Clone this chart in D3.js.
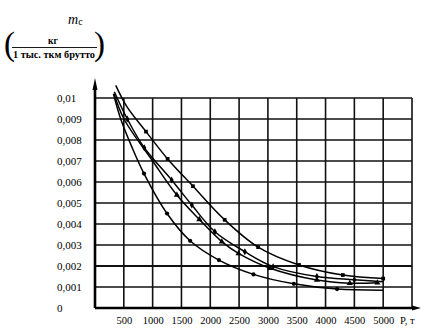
<!DOCTYPE html>
<html><head><meta charset="utf-8">
<script src="https://cdn.jsdelivr.net/npm/d3@7"></script>
<style>
body{margin:0;background:#fff;}
svg{display:block;}
text{font-family:"Liberation Serif","Times New Roman",serif;fill:#000;}
</style></head>
<body>
<svg id="chart" width="428" height="335"></svg>
<script>
// ---- data ----
const xTicks = [500,1000,1500,2000,2500,3000,3500,4000,4500,5000];
const yTicks = [0,0.001,0.002,0.003,0.004,0.005,0.006,0.007,0.008,0.009,0.01];
const xGrid = [500,1000,1500,2000,2500,3000,3500,4000,4500,5000,5500];
const yGrid = [0.001,0.002,0.003,0.004,0.005,0.006,0.007,0.008,0.009,0.01];

const curveA_P = [320,446,650,850,1250,1650,2150,2750,3450,4200,5000];
const curveA_m = [0.0102,0.0090,0.0076,0.0064,0.0045,0.0032,0.00228,0.0016,0.00115,0.0009,0.00085];
const curveA_marks = [850,1250,1650,2150,2750,3450,4200];

const curveB_P = [330,503,1000,1420,1810,2200,2490,3040,3850,4420,4900];
const curveB_m = [0.0102,0.0090,0.0070,0.00538,0.00422,0.00316,0.0026,0.00189,0.00133,0.00118,0.0012];
const curveB_marks = [1420,1810,2200,2490,3040,3850,4420,4900];

const curveC_P = [335,561,855,1330,1680,2080,2600,3090,3850,4500,5000];
const curveC_m = [0.0103,0.0090,0.00763,0.0061,0.0049,0.00363,0.00268,0.00197,0.0015,0.00135,0.00125];
const curveC_marks = [561,855,1330,1680,2080,2600,3090,3850,4500];

const curveD_P = [360,550,885,1260,1700,2250,2830,3540,4300,5000];
const curveD_m = [0.0106,0.0096,0.0084,0.0071,0.0058,0.0042,0.0029,0.00205,0.00157,0.0014];
const curveD_marks = [885,1260,1700,2250,2830,3540,4300,5000];

// ---- chart ----
const svg = d3.select("#chart");
const x = d3.scaleLinear().domain([0,5500]).range([95,412]);
const y = d3.scaleLinear().domain([0,0.01]).range([308,98]);

// grid
svg.append("g").selectAll("line").data(xGrid).join("line")
  .attr("x1",d=>x(d)).attr("x2",d=>x(d)).attr("y1",y(0)).attr("y2",y(0.01))
  .attr("stroke","#111").attr("stroke-width",1.6);
svg.append("g").selectAll("line").data(yGrid).join("line")
  .attr("x1",x(0)).attr("x2",x(5500)).attr("y1",d=>y(d)).attr("y2",d=>y(d))
  .attr("stroke","#111").attr("stroke-width",d=>d===0.002?2.2:1.6);

// axes lines with arrows
svg.append("line").attr("x1",x(0)).attr("y1",y(0)).attr("x2",x(5500)+2).attr("y2",y(0))
  .attr("stroke","#000").attr("stroke-width",2.6);
svg.append("path").attr("d",`M${x(5500)+9},${y(0)} L${x(5500)},${y(0)-2.5} L${x(5500)},${y(0)+2.5}Z`).attr("fill","#000");
svg.append("line").attr("x1",x(0)).attr("y1",y(0)).attr("x2",x(0)).attr("y2",88)
  .attr("stroke","#000").attr("stroke-width",2.6);
svg.append("path").attr("d",`M${x(0)},78 L${x(0)-2.5},90 L${x(0)+2.5},90Z`).attr("fill","#000");

// x tick labels
const xAxis = svg.append("g").attr("transform",`translate(0,${y(0)})`)
  .call(d3.axisBottom(x).tickValues(xTicks).tickSize(0).tickPadding(9).tickFormat(d=>String(d)));
xAxis.attr("font-family","Liberation Serif").attr("font-size",10.5);
xAxis.select(".domain").remove();
xAxis.selectAll("text").attr("fill","#000");
svg.append("text").attr("x",400).attr("y",324).style("font-size","10.5px").text("P, т");

// y tick labels
const yAxis = svg.append("g").attr("transform",`translate(${x(0)},0)`)
  .call(d3.axisLeft(y).tickValues(yTicks).tickSize(0)
    .tickFormat(d=> d===0 ? "0" : String(+d.toFixed(3)).replace(".",",")));
yAxis.attr("font-family","Liberation Serif").attr("font-size",11);
yAxis.select(".domain").remove();
yAxis.selectAll("text").attr("x",57-95).attr("text-anchor","start").attr("fill","#000");

// curves
const curves = [
  {P:curveA_P, m:curveA_m, marks:curveA_marks, sym:d3.symbolCircle, size:14},
  {P:curveB_P, m:curveB_m, marks:curveB_marks, sym:d3.symbolTriangle, size:16},
  {P:curveC_P, m:curveC_m, marks:curveC_marks, sym:d3.symbolDiamond, size:14},
  {P:curveD_P, m:curveD_m, marks:curveD_marks, sym:d3.symbolSquare, size:14}
];
const line = d3.line().x(d=>x(d[0])).y(d=>y(d[1])).curve(d3.curveCatmullRom.alpha(0.5));
curves.forEach(c=>{
  const pts = c.P.map((p,i)=>[p,c.m[i]]);
  svg.append("path").attr("d",line(pts)).attr("fill","none").attr("stroke","#000").attr("stroke-width",1.5);
  const mk = pts.filter(p=>c.marks.includes(p[0]));
  svg.append("g").selectAll("path").data(mk).join("path")
    .attr("transform",d=>`translate(${x(d[0])},${y(d[1])})`)
    .attr("d",d3.symbol().type(c.sym).size(c.size)).attr("fill","#000");
});

// title
const t = svg.append("text").attr("x",68).attr("y",24);
t.append("tspan").style("font-style","italic").style("font-size","14px").text("m");
t.append("tspan").style("font-size","10px").attr("dy",1).text("c");
svg.append("text").attr("x",4).attr("y",55).style("font-size","33px").text("(");
svg.append("text").attr("x",94).attr("y",55).style("font-size","33px").text(")");
svg.append("text").attr("x",53).attr("y",44).attr("text-anchor","middle")
  .style("font-size","9.5px").style("font-weight","bold").text("кг");
svg.append("line").attr("x1",12).attr("x2",97).attr("y1",47.5).attr("y2",47.5).attr("stroke","#000").attr("stroke-width",0.9);
svg.append("text").attr("x",13).attr("y",58).attr("textLength",82).attr("lengthAdjust","spacingAndGlyphs")
  .style("font-size","9.5px").style("font-weight","bold").text("1 тыс. ткм брутто");
</script>
</body></html>
